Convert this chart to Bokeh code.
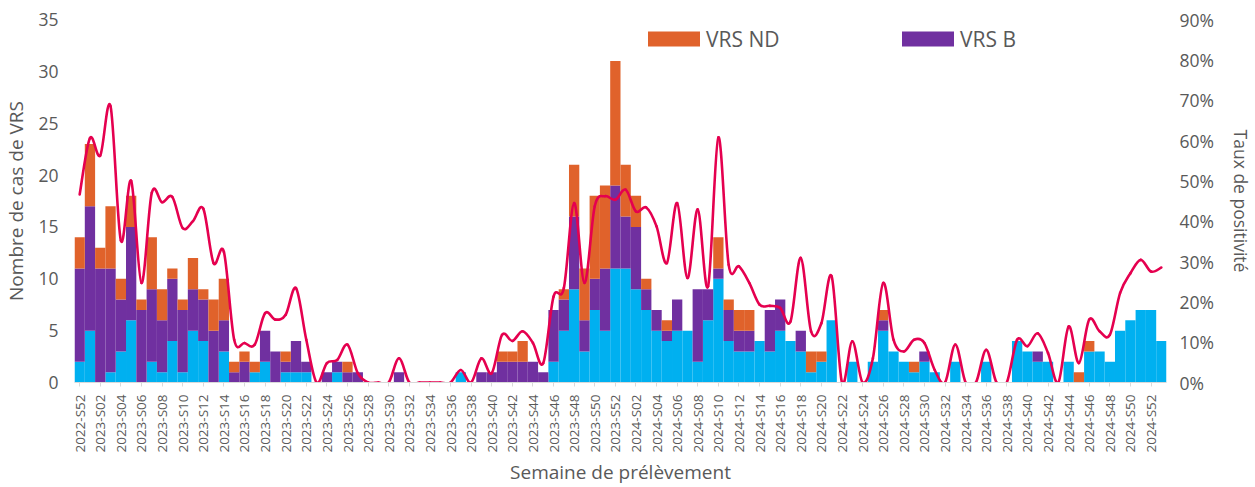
import math
import numpy as np
from bokeh.plotting import figure
from bokeh.models import (Range1d, LinearAxis, FixedTicker, NumeralTickFormatter,
                          Legend, LegendItem, ColumnDataSource)
from bokeh.embed import file_html
from bokeh.resources import INLINE

# ---- data -------------------------------------------------------------
weeks = (["2022-S52"] + [f"2023-S{w:02d}" for w in range(1, 53)]
         + [f"2024-S{w:02d}" for w in range(1, 53)] + ["2025-S01"])

vrs_a = [2, 5, 0, 1, 3, 6, 0, 2, 1, 4, 1, 5, 4, 0, 3, 0, 0, 1, 2, 0,
         1, 1, 1, 0, 0, 1, 0, 0, 0, 0, 0, 0, 0, 0, 0, 0, 0, 1, 0, 0,
         0, 0, 0, 0, 0, 0, 2, 5, 9, 3, 7, 5, 11, 11, 9, 7, 5, 4, 5, 5,
         2, 6, 10, 4, 3, 3, 4, 3, 5, 4, 3, 1, 2, 6, 0, 2, 0, 2, 5, 3,
         2, 1, 2, 1, 0, 2, 0, 0, 2, 0, 0, 4, 3, 2, 2, 0, 2, 0, 3, 3,
         2, 5, 6, 7, 7, 4]
vrs_b = [9, 12, 11, 10, 5, 9, 7, 7, 5, 6, 6, 4, 4, 5, 3, 1, 2, 0, 3, 3,
         1, 3, 1, 0, 1, 1, 1, 1, 0, 0, 0, 1, 0, 0, 0, 0, 0, 0, 0, 1,
         1, 2, 2, 2, 2, 1, 5, 3, 7, 3, 3, 6, 8, 5, 6, 2, 2, 1, 3, 0,
         7, 3, 1, 3, 2, 2, 0, 4, 3, 0, 2, 0, 0, 0, 0, 0, 0, 0, 1, 0,
         0, 0, 1, 0, 0, 0, 0, 0, 0, 0, 0, 0, 0, 1, 0, 0, 0, 0, 0, 0,
         0, 0, 0, 0, 0, 0]
vrs_nd = [3, 6, 2, 6, 2, 3, 1, 5, 3, 1, 1, 3, 1, 3, 4, 1, 1, 1, 0, 0,
          1, 0, 0, 0, 0, 0, 1, 0, 0, 0, 0, 0, 0, 0, 0, 0, 0, 0, 0, 0,
          0, 1, 1, 2, 0, 0, 0, 1, 5, 5, 8, 8, 12, 5, 3, 1, 0, 1, 0, 0,
          0, 0, 3, 1, 2, 2, 0, 0, 0, 0, 0, 2, 1, 0, 0, 0, 0, 0, 1, 0,
          0, 1, 0, 0, 0, 0, 0, 0, 0, 0, 0, 0, 0, 0, 0, 0, 0, 1, 1, 0,
          0, 0, 0, 0, 0, 0]
positivite = [46.6, 60.6, 56.3, 68.5, 35.2, 50.0, 24.7, 47.0, 44.7, 46.0,
              38.3, 40.0, 43.1, 29.6, 32.4, 10.6, 9.8, 9.4, 17.2, 15.6,
              16.8, 23.4, 10.6, 0.0, 4.8, 5.6, 9.4, 2.3, 0.0, 0.0,
              0.0, 6.0, 0.0, 0.0, 0.0, 0.0, 0.0, 3.1, 0.0, 6.0,
              2.3, 11.8, 10.3, 12.7, 9.8, 4.8, 21.3, 23.4, 44.5, 24.7,
              43.7, 46.2, 45.3, 47.8, 42.4, 43.4, 38.7, 29.6, 44.5, 25.9,
              42.9, 23.8, 60.8, 29.2, 28.8, 24.7, 19.3, 19.0, 18.5, 15.1,
              30.9, 12.7, 14.7, 26.3, 0.0, 10.2, 0.0, 6.0, 24.7, 10.6,
              7.7, 10.6, 9.8, 3.1, 0.0, 9.4, 0.0, 0.0, 8.1, 0.0,
              0.0, 10.6, 9.0, 12.2, 7.3, 0.0, 13.9, 4.8, 15.6, 12.7,
              11.8, 22.2, 27.1, 30.4, 27.5, 28.5]

BLUE = "#00B0F0"
PURPLE = "#7030A0"
ORANGE = "#E0622B"
LINE = "#E5004F"
GREY = "#595959"
FONT = "Open Sans"

n = len(weeks)
xs = list(range(n))
src = ColumnDataSource(dict(x=xs, week=weeks, A=vrs_a, B=vrs_b, ND=vrs_nd))

p = figure(width=1255, height=487, output_backend="svg", toolbar_location=None,
           x_range=Range1d(-0.5, n - 0.5), y_range=Range1d(0, 35),
           min_border_left=73, min_border_right=88, min_border_top=19,
           min_border_bottom=104)
p.outline_line_color = None
p.xgrid.visible = False
p.ygrid.visible = False

rs = p.vbar_stack(["A", "B", "ND"], x="x", width=1.0, source=src,
                  fill_color=[BLUE, PURPLE, ORANGE], line_color=None)

# smoothed positivity line (Catmull-Rom -> cubic bezier from the data points)
P = np.array(positivite) / 100.0
X = np.arange(n, dtype=float)
Pp = np.r_[P[0], P[:-1]]
Pn = np.r_[P[1:], P[-1]]
Xp = np.r_[X[0], X[:-1]]
Xn = np.r_[X[1:], X[-1]]
i = np.arange(n - 1)
bez = ColumnDataSource(dict(
    x0=X[i], y0=P[i], x1=X[i + 1], y1=P[i + 1],
    cx0=X[i] + (Xn[i] - Xp[i]) / 6.0, cy0=P[i] + (Pn[i] - Pp[i]) / 6.0,
    cx1=X[i + 1] - (Xn[i + 1] - Xp[i + 1]) / 6.0,
    cy1=P[i + 1] - (Pn[i + 1] - Pp[i + 1]) / 6.0))
p.extra_y_ranges = {"pct": Range1d(0, 0.9)}
p.bezier(x0="x0", y0="y0", x1="x1", y1="y1", cx0="cx0", cy0="cy0",
         cx1="cx1", cy1="cy1", source=bez, y_range_name="pct",
         line_color=LINE, line_width=2.6, line_cap="round")

# axes
p.yaxis.ticker = FixedTicker(ticks=list(range(0, 36, 5)))
p.yaxis.axis_label = "Nombre de cas de VRS"
ax_r = LinearAxis(y_range_name="pct", axis_label="Taux de positivité",
                  ticker=FixedTicker(ticks=[k / 10 for k in range(10)]),
                  formatter=NumeralTickFormatter(format="0%"))
p.add_layout(ax_r, "right")

p.xaxis.ticker = FixedTicker(ticks=list(range(0, n, 2)))
p.xaxis.major_label_overrides = {k: weeks[k] for k in range(0, n, 2)}
p.xaxis.major_label_orientation = math.pi / 2
p.xaxis.axis_label = "Semaine de prélèvement"

for ax in list(p.yaxis):
    ax.axis_line_color = None
    ax.major_tick_line_color = None
    ax.minor_tick_line_color = None
    ax.major_label_text_font = FONT
    ax.major_label_text_font_size = "17.5px"
    ax.major_label_text_color = GREY
    ax.axis_label_text_font = FONT
    ax.axis_label_text_font_style = "normal"
    ax.axis_label_text_color = GREY

yl = p.yaxis[0]
yl.axis_label_text_font_size = "19px"
yl.major_label_standoff = 10
yl.axis_label_standoff = 6
ax_r.axis_label_text_font_size = "17.5px"
ax_r.major_label_standoff = 7
ax_r.axis_label_standoff = 12

xa = p.xaxis[0]
xa.axis_line_color = "#D9D9D9"
xa.major_tick_line_color = "#D9D9D9"
xa.major_tick_out = 4
xa.major_tick_in = 0
xa.minor_tick_line_color = None
xa.major_label_text_font = FONT
xa.major_label_text_font_size = "13.5px"
xa.major_label_text_color = GREY
xa.major_label_standoff = 8
xa.axis_label_text_font = FONT
xa.axis_label_text_font_size = "19px"
xa.axis_label_text_font_style = "normal"
xa.axis_label_text_color = GREY
xa.axis_label_standoff = 3

# legends
fh = 382.7 - 19.3
for lab, r, xpos in [("VRS ND", rs[2], 567), ("VRS B", rs[1], 821)]:
    lg = Legend(items=[LegendItem(label=lab, renderers=[r])],
                location=(xpos, fh - 34), orientation="horizontal",
                glyph_width=65, glyph_height=19, label_height=19,
                label_standoff=0, padding=0, margin=0, spacing=0,
                border_line_color=None, background_fill_alpha=0,
                label_text_font=FONT, label_text_font_size="21px",
                label_text_color=GREY)
    p.add_layout(lg, "center")

open("out.html", "w").write(file_html(p, INLINE))
